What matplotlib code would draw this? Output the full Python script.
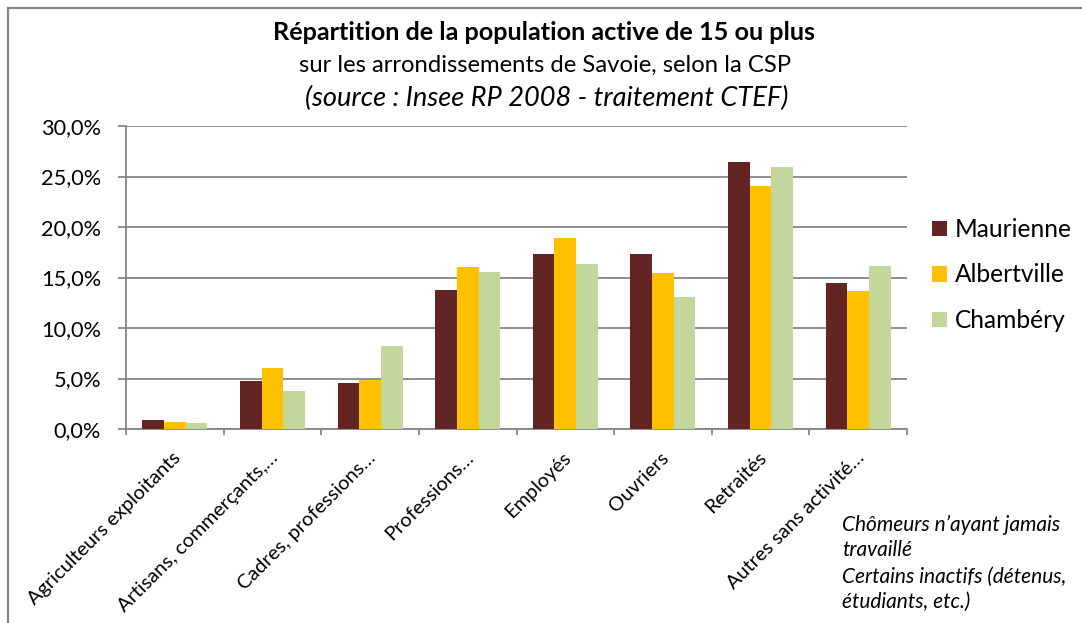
import matplotlib
matplotlib.use("Agg")
import matplotlib.pyplot as plt
import numpy as np
from matplotlib.lines import Line2D
from matplotlib.patches import Rectangle
from matplotlib.transforms import ScaledTranslation, blended_transform_factory

# ---------------- data ----------------
categories = ["Agriculteurs exploitants", "Artisans, commerçants,…", "Cadres, professions…",
              "Professions…", "Employés", "Ouvriers", "Retraités", "Autres sans activité…"]
series_names = ["Maurienne", "Albertville", "Chambéry"]
maurienne = [0.86, 4.8, 4.6, 13.8, 17.3, 17.3, 26.4, 14.5]
albertville = [0.69, 6.0, 4.85, 16.0, 18.9, 15.4, 24.1, 13.7]
chambery = [0.63, 3.75, 8.25, 15.5, 16.3, 13.1, 25.9, 16.1]
series_colors = ["#632523", "#FFC000", "#C3D69B"]
yticks = [0, 5, 10, 15, 20, 25, 30]
ytick_labels = ["0,0%", "5,0%", "10,0%", "15,0%", "20,0%", "25,0%", "30,0%"]
title_lines = ["Répartition de la population active de 15 ou plus",
               "sur les arrondissements de Savoie, selon la CSP",
               "(source : Insee RP 2008 - traitement CTEF)"]
note_lines = ["Chômeurs n’ayant jamais", "travaillé",
              "Certains inactifs (détenus,", "étudiants, etc.)"]

FONT = "Lato"
GRAY = "#868686"
W, H = 1082, 623
DPI = 100

fig = plt.figure(figsize=(W / DPI, H / DPI), dpi=DPI)
fig.patch.set_facecolor("white")
renderer = fig.canvas.get_renderer()


def fx(x):
    return x / W


def fy(y):
    return 1 - y / H


def fit(t, target_w):
    w = t.get_window_extent(renderer).width
    t.set_fontsize(t.get_fontsize() * target_w / w)
    return t.get_fontsize()


# ---------------- axes ----------------
ax = fig.add_axes([fx(126), fy(429), fx(907) - fx(126), fy(126) - fy(429)])
x = np.arange(len(categories))
bw = 0.222
for i, (vals, col, name) in enumerate(zip([maurienne, albertville, chambery],
                                          series_colors, series_names)):
    ax.bar(x + (i - 1) * bw, vals, bw, color=col, label=name, zorder=3,
           edgecolor="none")

ax.set_xlim(-0.5, len(categories) - 0.5)
ax.set_ylim(0, 30)
for s in ["top", "right"]:
    ax.spines[s].set_visible(False)
for s in ["left", "bottom"]:
    ax.spines[s].set_color(GRAY)
    ax.spines[s].set_linewidth(1.3)
ax.set_yticks(yticks)
ax.yaxis.grid(True, color=GRAY, linewidth=1.3, zorder=0)
ax.set_axisbelow(True)
ax.tick_params(axis="y", direction="out", length=6, width=1.3, color=GRAY, pad=12)
ax.set_xticks(np.arange(-0.5, len(categories), 1.0))
ax.set_xticklabels([])
ax.tick_params(axis="x", direction="out", length=4.5, width=1.3, color=GRAY)

# y tick labels
ax.set_yticklabels(ytick_labels, fontfamily=FONT, color="black")
fig.canvas.draw()
labs = ax.get_yticklabels()
ref = [l for l in labs if l.get_text() == "30,0%"][0]
fs_tick = fit(ref, 60)
for l in labs:
    l.set_fontsize(fs_tick)

# category labels (rotated 45°)
trans = blended_transform_factory(ax.transData, ax.transAxes)
cat_texts = []
for i, c in enumerate(categories):
    t = ax.text(i, 0, c, fontfamily=FONT, fontsize=12, ha="right", va="top",
                transform=trans + ScaledTranslation(-3 / DPI, -20 / DPI, fig.dpi_scale_trans),
                rotation=0, rotation_mode="anchor")
    cat_texts.append(t)
fs_cat = fit(cat_texts[0], 208)
for t in cat_texts:
    t.set_fontsize(fs_cat)
    t.set_rotation(45)

# ---------------- titles ----------------
t1 = fig.text(fx(544), fy(32), title_lines[0], fontfamily=FONT, fontweight="bold",
              fontsize=14, ha="center", va="center")
fit(t1, 548)
t2 = fig.text(fx(545), fy(65), title_lines[1], fontfamily=FONT, fontsize=14,
              ha="center", va="center")
fit(t2, 495)
t3 = fig.text(fx(547), fy(98), title_lines[2], fontfamily=FONT, fontstyle="italic",
              fontsize=14, ha="center", va="center")
fit(t3, 485)

# ---------------- note ----------------
note_y = [525, 550, 577, 602]
note_texts = []
for yy, line in zip(note_y, note_lines):
    note_texts.append(fig.text(fx(842), fy(yy), line, fontfamily=FONT, fontstyle="italic",
                               fontsize=12, ha="left", va="center"))
fs_note = fit(note_texts[0], 218)
for t in note_texts:
    t.set_fontsize(fs_note)

# ---------------- legend ----------------
tmp = fig.text(0, 0, "Maurienne", fontfamily=FONT, fontsize=14)
fs_leg = fit(tmp, 117)
tmp.remove()
fs_px = fs_leg * DPI / 72
handles = [Rectangle((0, 0), 1, 1, facecolor=c, edgecolor="none") for c in series_colors]
leg = ax.legend(handles, series_names, loc="center left",
                bbox_to_anchor=(fx(932), fy(275)), bbox_transform=fig.transFigure,
                frameon=False, borderpad=0, borderaxespad=0,
                prop={"family": FONT, "size": fs_leg},
                handlelength=14.7 / fs_px, handleheight=14.7 / fs_px,
                handletextpad=8 / fs_px, labelspacing=(52 - 1.2 * fs_px) / fs_px)

# ---------------- figure border ----------------
fig.add_artist(Line2D([fx(8), 1], [fy(7.5), fy(7.5)], transform=fig.transFigure,
                      color=GRAY, linewidth=1.6))
fig.add_artist(Line2D([fx(8), fx(8)], [0, fy(7.5)], transform=fig.transFigure,
                      color=GRAY, linewidth=1.6))

fig.savefig("out.png", dpi=DPI, facecolor="white")
